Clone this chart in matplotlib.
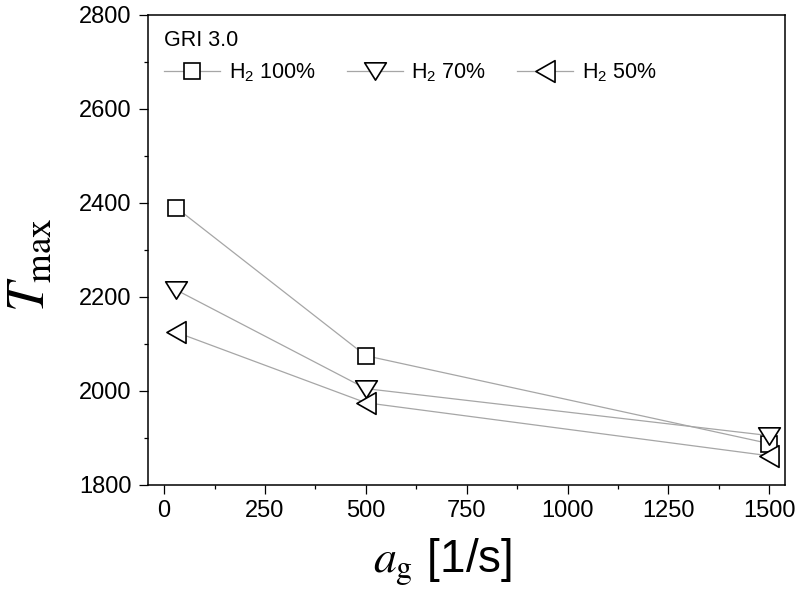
import matplotlib
matplotlib.use("Agg")
import matplotlib.pyplot as plt
from matplotlib.path import Path
from matplotlib.ticker import MultipleLocator
from matplotlib.font_manager import FontProperties

plt.rcParams['font.family'] = ['Liberation Sans', 'DejaVu Sans']
plt.rcParams['mathtext.fontset'] = 'custom'
plt.rcParams['mathtext.rm'] = 'Liberation Sans'
plt.rcParams['mathtext.it'] = 'Liberation Sans:italic'

# ---- data ----
strain_rate = [30, 500, 1500]
t_h2_100 = [2390, 2075, 1888]
t_h2_70 = [2215, 2005, 1905]
t_h2_50 = [2125, 1975, 1862]
series_labels = ['H$_2$ 100%', 'H$_2$ 70%', 'H$_2$ 50%']
legend_title = 'GRI 3.0'
x_ticks = [0, 250, 500, 750, 1000, 1250, 1500]
y_ticks = [1800, 2000, 2200, 2400, 2600, 2800]

# custom wide triangles
tri_down = Path([(-1, 0.8), (1, 0.8), (0, -0.8), (-1, 0.8)],
                [Path.MOVETO, Path.LINETO, Path.LINETO, Path.CLOSEPOLY])
tri_left = Path([(-0.88, 0), (0.88, 1), (0.88, -1), (-0.88, 0)],
                [Path.MOVETO, Path.LINETO, Path.LINETO, Path.CLOSEPOLY])

fig = plt.figure(figsize=(8, 5.98), dpi=100)
ax = fig.add_axes([0.1844, 0.189, 0.797, 0.786])

line_kw = dict(color='#a6a6a6', lw=0.9, markerfacecolor='white',
               markeredgecolor='black', markeredgewidth=1.2)
ax.plot(strain_rate, t_h2_100, marker='s', ms=12, label=series_labels[0], **line_kw)
ax.plot(strain_rate, t_h2_70, marker=tri_down, ms=15.6, label=series_labels[1], **line_kw)
ax.plot(strain_rate, t_h2_50, marker=tri_left, ms=15.6, label=series_labels[2], **line_kw)

ax.set_xlim(-41, 1539)
ax.set_ylim(1800, 2800)
ax.set_xticks(x_ticks)
ax.set_yticks(y_ticks)
ax.xaxis.set_minor_locator(MultipleLocator(125))
ax.yaxis.set_minor_locator(MultipleLocator(100))
ax.tick_params(which='major', direction='out', length=6.5, width=0.9,
               labelsize=17, pad=4)
ax.tick_params(which='minor', direction='out', length=3.2, width=0.9)
ax.tick_params(axis='y', which='major', pad=5)
for s in ax.spines.values():
    s.set_linewidth(1.1)

ax.set_xlabel(r'$a_\mathrm{g}$ [1/s]', fontsize=33, math_fontfamily='stix')
ax.set_ylabel(r'$T_\mathrm{max}$', fontsize=38, math_fontfamily='stix')
ax.xaxis.set_label_coords(0.463, -0.108)
ax.yaxis.set_label_coords(-0.145, 0.468)

leg = ax.legend(loc='upper left', bbox_to_anchor=(0.026, 0.967), ncol=3,
                frameon=False, title=legend_title, alignment='left',
                prop=FontProperties(family='Liberation Sans', size=15.5),
                title_fontproperties=FontProperties(family='Liberation Sans', size=15.5),
                borderpad=0, borderaxespad=0, handlelength=2.6,
                handletextpad=0.4, columnspacing=1.45, labelspacing=0.45)

fig.savefig('out.png', dpi=100)
